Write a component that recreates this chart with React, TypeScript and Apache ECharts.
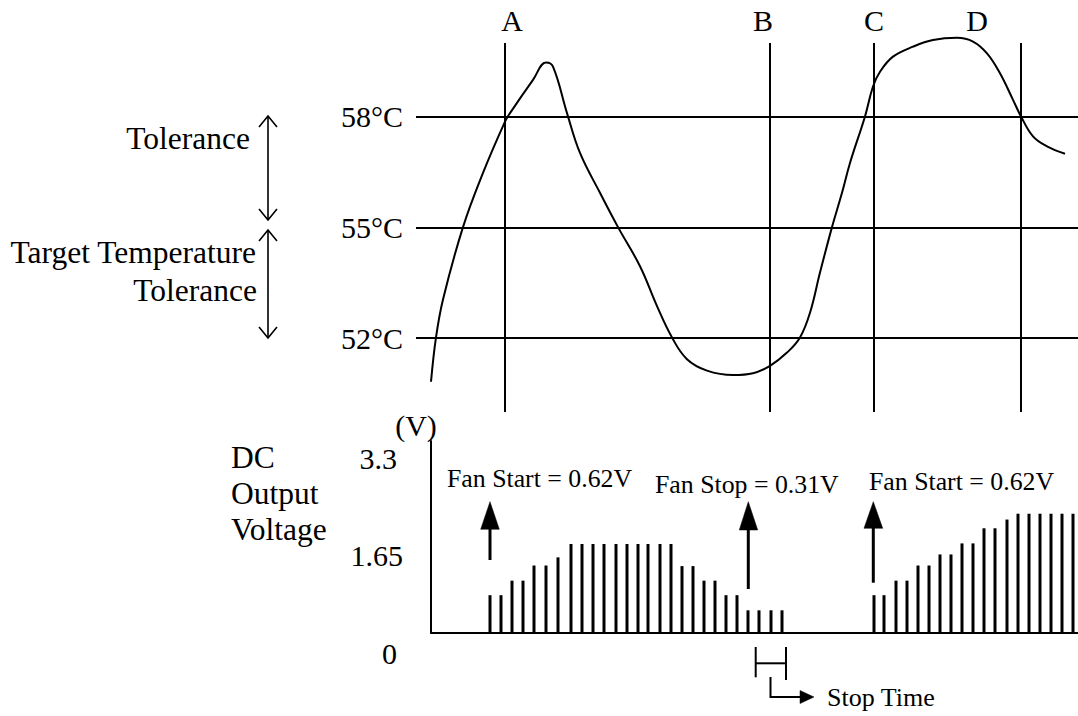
import React, { useEffect, useRef } from "react";
import * as echarts from "echarts";

// Temperature curve (time units, °C)
const curveTime = [15, 20, 27, 47, 67, 89, 94, 117, 130, 137, 151, 164, 184, 202, 224, 241, 256, 271, 291, 317, 337, 354, 371, 384, 394, 404, 416, 426, 434, 449, 457, 464, 477, 497, 517, 541, 557, 571, 584, 597, 605, 617, 631, 649];
const curveTemp = [50.82, 52.02, 53.05, 55.01, 56.48, 57.87, 58.1, 59.0, 59.47, 59.36, 58.1, 57.02, 55.94, 55.01, 53.95, 52.87, 52.02, 51.43, 51.12, 51.0, 51.05, 51.25, 51.61, 52.02, 52.69, 53.78, 55.01, 55.94, 56.75, 58.01, 58.82, 59.22, 59.63, 59.9, 60.08, 60.14, 60.04, 59.72, 59.18, 58.46, 58.01, 57.47, 57.2, 57.0];

const tempLevels = [52, 55, 58];
const eventTimes = [89, 354, 458, 605];

// DC output voltage pulses
const cycle1Times = [74, 85, 96, 107, 118, 130, 142, 155, 166, 177, 188, 200, 211, 222, 232, 244, 255, 266, 277, 288, 299, 310, 321, 332, 343, 355, 366];
const cycle1Volts = [0.65, 0.65, 0.9, 0.9, 1.16, 1.16, 1.3, 1.53, 1.53, 1.53, 1.53, 1.53, 1.53, 1.53, 1.53, 1.53, 1.53, 1.15, 1.15, 0.9, 0.9, 0.65, 0.65, 0.39, 0.39, 0.39, 0.39];
const cycle2Times = [458, 468, 480, 491, 502, 513, 524, 535, 546, 557, 568, 579, 591, 602, 613, 624, 635, 646, 657];
const cycle2Volts = [0.65, 0.65, 0.9, 0.9, 1.16, 1.16, 1.35, 1.35, 1.54, 1.54, 1.8, 1.8, 1.95, 2.05, 2.05, 2.05, 2.05, 2.05, 2.05];

const voltTickLabels = ["3.3", "1.65", "0"];

const serif = '"Liberation Serif", "Times New Roman", serif';

function txt(text: string, x: number, y: number, size: number, align: string) {
  return {
    type: "text",
    x,
    y,
    silent: true,
    style: { text, font: `${size}px ${serif}`, fill: "#000", align, verticalAlign: "middle" },
  };
}
function ln(x1: number, y1: number, x2: number, y2: number, w = 2) {
  return { type: "line", silent: true, shape: { x1, y1, x2, y2 }, style: { stroke: "#000", lineWidth: w } };
}
function pl(points: number[][], w = 1.6) {
  return { type: "polyline", silent: true, shape: { points }, style: { stroke: "#000", lineWidth: w, fill: "none" } };
}
function pg(points: number[][]) {
  return { type: "polygon", silent: true, shape: { points }, style: { fill: "#000", stroke: "#000", lineWidth: 0.5 } };
}

export default function App() {
  const ref = useRef<HTMLDivElement>(null);
  useEffect(() => {
    if (!ref.current) return;
    const chart = echarts.init(ref.current, undefined, { renderer: "svg" });
    const curve = curveTime.map((t, i) => [t, curveTemp[i]]);
    const bars = [
      ...cycle1Times.map((t, i) => [t, cycle1Volts[i]]),
      ...cycle2Times.map((t, i) => [t, cycle2Volts[i]]),
    ];
    const graphic: any[] = [
      txt("A", 512, 20, 30, "center"),
      txt("B", 763, 20, 30, "center"),
      txt("C", 874, 20, 30, "center"),
      txt("D", 977, 20, 30, "center"),
      txt("Tolerance", 250, 138, 31.5, "right"),
      txt("Target Temperature", 256, 252, 31.5, "right"),
      txt("Tolerance", 257, 290, 31.5, "right"),
      // double arrows
      ln(268, 116, 268, 220, 1.6),
      pl([[259, 127], [268, 116], [277, 127]]),
      pl([[259, 209], [268, 220], [277, 209]]),
      ln(268, 230, 268, 338, 1.6),
      pl([[259, 241], [268, 230], [277, 241]]),
      pl([[259, 327], [268, 338], [277, 327]]),
      txt("(V)", 416, 425, 30, "center"),
      txt("DC", 231, 457, 31.5, "left"),
      txt("Output", 231, 493, 31.5, "left"),
      txt("Voltage", 231, 529, 31.5, "left"),
      txt(voltTickLabels[0], 397, 458, 30, "right"),
      txt(voltTickLabels[1], 403, 555, 30, "right"),
      txt(voltTickLabels[2], 397, 653, 30, "right"),
      txt("Fan Start = 0.62V", 447, 478, 25.8, "left"),
      txt("Fan Stop = 0.31V", 655, 484, 25.8, "left"),
      txt("Fan Start = 0.62V", 869, 481, 25.8, "left"),
      // fan arrows
      ln(490, 560, 490, 526, 3),
      pg([[480.7, 529.3], [490, 501.7], [499.3, 529.3]]),
      ln(748.3, 589, 748.3, 527, 3),
      pg([[739.3, 530], [748.3, 501.7], [757.7, 530]]),
      ln(873.3, 582.7, 873.3, 525, 3),
      pg([[864, 528.3], [873.3, 501.7], [882.7, 528.3]]),
      // stop time bracket
      ln(755.7, 647, 755.7, 677.3),
      ln(786, 647, 786, 680),
      ln(755.7, 663.3, 786, 663.3),
      pl([[770.5, 677], [770.5, 697], [801, 697]], 2),
      pg([[800, 690.5], [814, 697], [800, 703.5]]),
      txt("Stop Time", 827, 697, 26, "left"),
    ];
    chart.setOption({
      animation: false,
      backgroundColor: "#fff",
      grid: [
        { left: 416, right: 0, top: 43, height: 369 },
        { left: 431, right: 0, top: 441, height: 192 },
      ],
      xAxis: [
        { type: "value", gridIndex: 0, min: 0, max: 662, show: false },
        {
          type: "value",
          gridIndex: 1,
          min: 15,
          max: 662,
          axisLine: { show: true, lineStyle: { color: "#000", width: 2 } },
          axisTick: { show: false },
          axisLabel: { show: false },
          splitLine: { show: false },
        },
      ],
      yAxis: [
        {
          type: "value",
          gridIndex: 0,
          min: 50,
          max: 60,
          interval: 1,
          axisLine: { show: false },
          axisTick: { show: false },
          splitLine: { show: false },
          axisLabel: {
            margin: 13,
            color: "#000",
            fontFamily: serif,
            fontSize: 30,
            formatter: (v: number) => (tempLevels.includes(v) ? `${v}°C` : ""),
          },
        },
        {
          type: "value",
          gridIndex: 1,
          min: 0,
          max: 3.3,
          axisLine: { show: true, lineStyle: { color: "#000", width: 2 } },
          axisTick: { show: false },
          axisLabel: { show: false },
          splitLine: { show: false },
        },
      ],
      series: [
        {
          type: "line",
          xAxisIndex: 0,
          yAxisIndex: 0,
          data: curve,
          symbol: "none",
          smooth: 0.4,
          clip: false,
          silent: true,
          lineStyle: { color: "#000", width: 2 },
          markLine: {
            silent: true,
            symbol: ["none", "none"],
            label: { show: false },
            lineStyle: { color: "#000", width: 2, type: "solid" },
            data: [...tempLevels.map((v) => ({ yAxis: v })), ...eventTimes.map((t) => ({ xAxis: t }))],
          },
        },
        {
          type: "bar",
          xAxisIndex: 1,
          yAxisIndex: 1,
          data: bars,
          barWidth: 3,
          silent: true,
          itemStyle: { color: "#000" },
        },
      ],
      graphic,
    });
    return () => chart.dispose();
  }, []);
  return (
    <div
      ref={ref}
      style={{ position: "fixed", left: 0, top: 0, width: 1078, height: 716, background: "#fff" }}
    />
  );
}
